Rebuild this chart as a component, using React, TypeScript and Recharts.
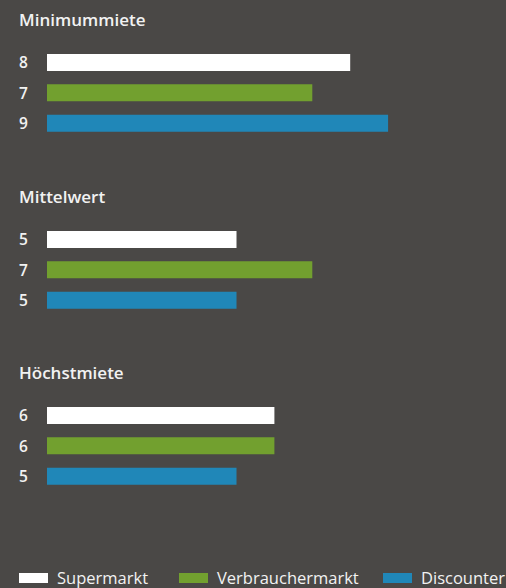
import React from "react";
import { BarChart, Bar, XAxis, YAxis, Cell } from "recharts";

const groups = ["Minimummiete", "Mittelwert", "Höchstmiete"];
const seriesNames = ["Supermarkt", "Verbrauchermarkt", "Discounter"];
const seriesColors = ["#ffffff", "#72a02f", "#2087b8"];

const minimummiete = [8, 7, 9];
const mittelwert = [5, 7, 5];
const hoechstmiete = [6, 6, 5];
const groupValues = [minimummiete, mittelwert, hoechstmiete];

const BG = "#4a4846";
const FONT = "'Open Sans', 'DejaVu Sans', sans-serif";

function ValueTick(props: any) {
  const { y, payload, values } = props;
  return (
    <text x={19} y={y} dy={6} fill="#f2f2f2" fontSize={15.5} fontWeight={600} fontFamily={FONT} textAnchor="start">
      {values[payload.index]}
    </text>
  );
}

function Group({ title, values, top }: { title: string; values: number[]; top: number }) {
  const data = seriesNames.map((name, i) => ({ name, value: values[i] }));
  return (
    <>
      <div
        style={{
          position: "absolute",
          left: 19,
          top: top + 8,
          color: "#f2f2f2",
          fontFamily: FONT,
          fontSize: 17,
          fontWeight: 600,
          lineHeight: "24px",
        }}
      >
        {title}
      </div>
      <div style={{ position: "absolute", left: 0, top: top + 47 }}>
        <BarChart width={426} height={91} data={data} layout="vertical" margin={{ top: 0, right: 0, bottom: 0, left: 0 }}>
          <XAxis type="number" domain={[0, 10]} hide />
          <YAxis
            type="category"
            dataKey="name"
            width={47}
            axisLine={false}
            tickLine={false}
            tick={<ValueTick values={values} />}
          />
          <Bar dataKey="value" barSize={17} isAnimationActive={false}>
            {data.map((_, i) => (
              <Cell key={i} fill={seriesColors[i]} />
            ))}
          </Bar>
        </BarChart>
      </div>
    </>
  );
}

const legendLeft = [19, 179, 383];

export default function App() {
  return (
    <div
      style={{
        position: "fixed",
        left: 0,
        top: 0,
        width: 506,
        height: 588,
        background: BG,
        overflow: "hidden",
      }}
    >
      {groups.map((g, i) => (
        <Group key={g} title={g} values={groupValues[i]} top={i * 176.5} />
      ))}
      {seriesNames.map((name, i) => (
        <div
          key={name}
          style={{
            position: "absolute",
            left: legendLeft[i],
            top: 567,
            display: "flex",
            alignItems: "center",
            fontFamily: FONT,
            fontSize: 16.5,
            color: "#f2f2f2",
            lineHeight: "22px",
            whiteSpace: "nowrap",
          }}
        >
          <span style={{ display: "inline-block", width: 29, height: 10, background: seriesColors[i], marginRight: 9 }} />
          {name}
        </div>
      ))}
    </div>
  );
}
